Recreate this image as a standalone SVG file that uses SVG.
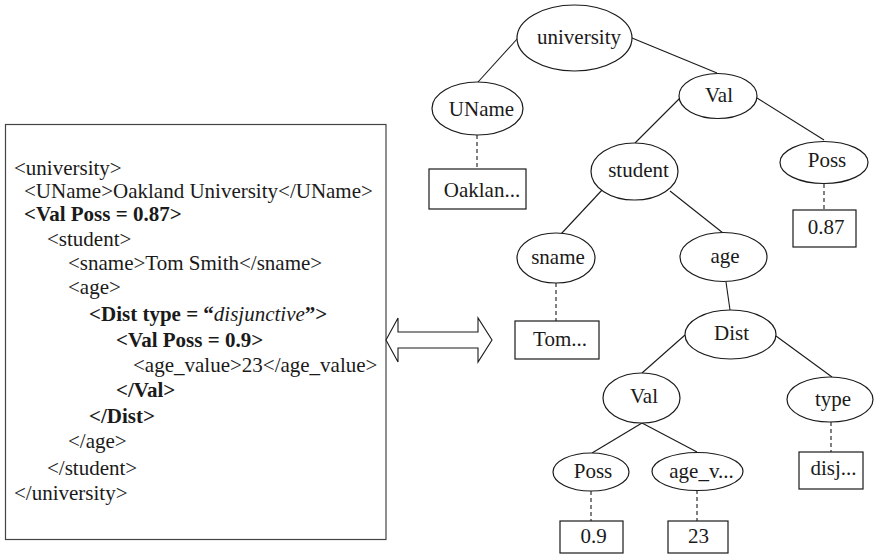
<svg xmlns="http://www.w3.org/2000/svg" width="874" height="554" viewBox="0 0 874 554">
  <style>
    .code { font-family: "Liberation Serif", "Times New Roman", serif; font-size: 21px; fill: #1a1a1a; }
    .b { font-weight: bold; }
    .i { font-style: italic; font-weight: normal; }
    .lbl { font-family: "Liberation Serif", "Times New Roman", serif; font-size: 21px; fill: #1a1a1a; text-anchor: middle; }
    .node ellipse, .node rect { fill: #fff; stroke: #1a1a1a; stroke-width: 1.2; }
    .edge { stroke: #1a1a1a; stroke-width: 1.1; fill: none; }
    .dash { stroke: #1a1a1a; stroke-width: 1.1; stroke-dasharray: 4 3; fill: none; }
  </style>

  <!-- XML source listing -->
  <g id="xml-listing">
    <rect x="5.5" y="124.5" width="380.5" height="415" fill="#fff" stroke="#444" stroke-width="1.2"/>
    <text class="code" x="14" y="175">&lt;university&gt;</text>
    <text class="code" x="24" y="198">&lt;UName&gt;Oakland University&lt;/UName&gt;</text>
    <text class="code b" x="24" y="221">&lt;Val Poss = 0.87&gt;</text>
    <text class="code" x="47" y="246">&lt;student&gt;</text>
    <text class="code" x="68" y="270">&lt;sname&gt;Tom Smith&lt;/sname&gt;</text>
    <text class="code" x="68" y="294">&lt;age&gt;</text>
    <text class="code b" x="89" y="321">&lt;Dist type = “<tspan class="i">disjunctive</tspan>”&gt;</text>
    <text class="code b" x="116" y="347">&lt;Val Poss = 0.9&gt;</text>
    <text class="code" x="133" y="372">&lt;age_value&gt;23&lt;/age_value&gt;</text>
    <text class="code b" x="116" y="397">&lt;/Val&gt;</text>
    <text class="code b" x="89" y="423">&lt;/Dist&gt;</text>
    <text class="code" x="68" y="448">&lt;/age&gt;</text>
    <text class="code" x="47" y="475">&lt;/student&gt;</text>
    <text class="code" x="14" y="500">&lt;/university&gt;</text>
  </g>

  <!-- two-way correspondence arrow -->
  <g id="double-arrow">
    <polygon points="386,340 398,318 398,332 478,332 478,318 492,340 478,362 478,348 398,348 398,362" fill="#fff" stroke="#1a1a1a" stroke-width="1.1"/>
  </g>

  <!-- tree connectors -->
  <g id="connectors">
    <line class="edge" x1="518" y1="38" x2="478" y2="82"/>
    <line class="edge" x1="632" y1="38" x2="717" y2="73"/>
    <line class="edge" x1="680" y1="98" x2="635" y2="143"/>
    <line class="edge" x1="757" y1="98" x2="824" y2="140"/>
    <line class="edge" x1="603" y1="189" x2="561" y2="234"/>
    <line class="edge" x1="670" y1="191" x2="723" y2="233"/>
    <line class="edge" x1="726" y1="282" x2="730" y2="310"/>
    <line class="edge" x1="685" y1="335" x2="642" y2="373"/>
    <line class="edge" x1="776" y1="336" x2="832" y2="377"/>
    <line class="edge" x1="642" y1="423" x2="592" y2="453"/>
    <line class="edge" x1="642" y1="423" x2="697" y2="452"/>
    <line class="dash" x1="477" y1="135" x2="477" y2="169"/>
    <line class="dash" x1="824" y1="184" x2="824" y2="210"/>
    <line class="dash" x1="556" y1="283" x2="556" y2="321"/>
    <line class="dash" x1="831" y1="422" x2="831" y2="452"/>
    <line class="dash" x1="591" y1="491" x2="591" y2="521"/>
    <line class="dash" x1="697" y1="490" x2="697" y2="521"/>
  </g>

  <!-- tree nodes -->
  <g id="n-university" class="node">
    <ellipse cx="574.5" cy="38" rx="57.5" ry="33"/>
    <text class="lbl" x="579" y="44">university</text>
  </g>
  <g id="n-uname" class="node">
    <ellipse cx="477.5" cy="108.5" rx="45.5" ry="26.5"/>
    <text class="lbl" x="481.5" y="116">UName</text>
  </g>
  <g id="n-oaklan" class="node">
    <rect x="429" y="169" width="97" height="40"/>
    <text class="lbl" x="482" y="197">Oaklan...</text>
  </g>
  <g id="n-val1" class="node">
    <ellipse cx="718" cy="96" rx="39" ry="22.5"/>
    <text class="lbl" x="719" y="102">Val</text>
  </g>
  <g id="n-poss1" class="node">
    <ellipse cx="824" cy="162.5" rx="44" ry="21"/>
    <text class="lbl" x="827" y="167">Poss</text>
  </g>
  <g id="n-087" class="node">
    <rect x="793" y="210" width="63" height="37"/>
    <text class="lbl" x="826" y="234">0.87</text>
  </g>
  <g id="n-student" class="node">
    <ellipse cx="634.5" cy="171.5" rx="43.5" ry="28.5"/>
    <text class="lbl" x="638.5" y="177">student</text>
  </g>
  <g id="n-sname" class="node">
    <ellipse cx="556" cy="258" rx="39" ry="25"/>
    <text class="lbl" x="558" y="264">sname</text>
  </g>
  <g id="n-tom" class="node">
    <rect x="515" y="321" width="84" height="38"/>
    <text class="lbl" x="560" y="346">Tom...</text>
  </g>
  <g id="n-age" class="node">
    <ellipse cx="723.5" cy="257" rx="43.5" ry="24.5"/>
    <text class="lbl" x="725" y="263">age</text>
  </g>
  <g id="n-dist" class="node">
    <ellipse cx="730.5" cy="334.5" rx="45.5" ry="24.5"/>
    <text class="lbl" x="731.5" y="340">Dist</text>
  </g>
  <g id="n-val2" class="node">
    <ellipse cx="641.5" cy="398" rx="38.5" ry="25"/>
    <text class="lbl" x="644" y="403">Val</text>
  </g>
  <g id="n-type" class="node">
    <ellipse cx="830" cy="399.5" rx="43" ry="22.5"/>
    <text class="lbl" x="833" y="406">type</text>
  </g>
  <g id="n-disj" class="node">
    <rect x="799" y="452" width="64" height="37"/>
    <text class="lbl" x="833.5" y="475">disj...</text>
  </g>
  <g id="n-poss2" class="node">
    <ellipse cx="591" cy="472" rx="38" ry="19"/>
    <text class="lbl" x="593" y="478">Poss</text>
  </g>
  <g id="n-agev" class="node">
    <ellipse cx="697.5" cy="471.5" rx="45.5" ry="19"/>
    <text class="lbl" x="701.5" y="478">age_v...</text>
  </g>
  <g id="n-09" class="node">
    <rect x="560" y="521" width="63" height="32"/>
    <text class="lbl" x="593.5" y="543">0.9</text>
  </g>
  <g id="n-23" class="node">
    <rect x="668" y="521" width="60" height="32"/>
    <text class="lbl" x="698.5" y="543">23</text>
  </g>
</svg>
